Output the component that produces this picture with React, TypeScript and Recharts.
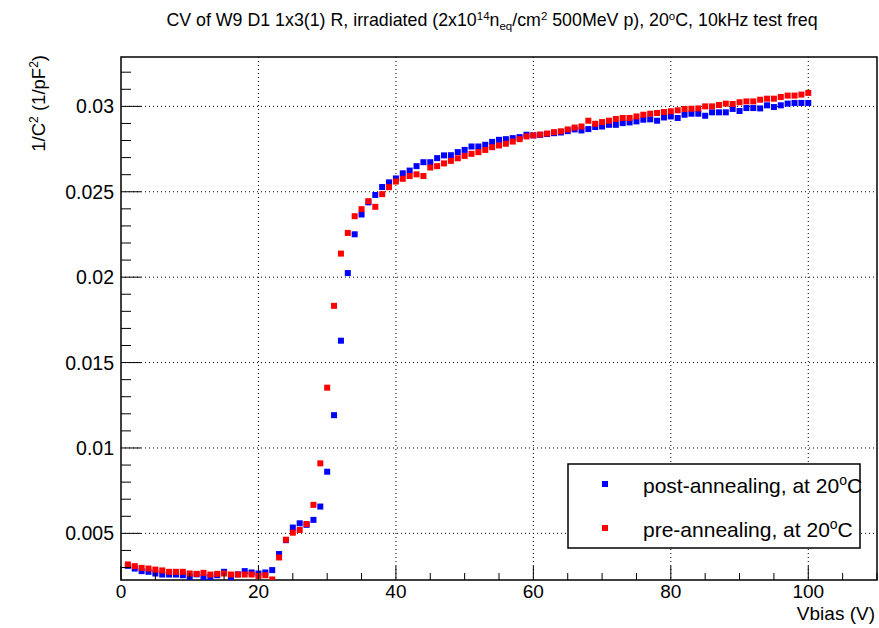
import { ScatterChart, Scatter, XAxis, YAxis, CartesianGrid, ReferenceArea } from "recharts";

// bias voltage steps (V)
const VOLTS = [
  1, 2, 3, 4, 5, 6, 7, 8, 9, 10, 11, 12, 13, 14, 15, 16, 17, 18, 19, 20,
  21, 22, 23, 24, 25, 26, 27, 28, 29, 30, 31, 32, 33, 34, 35, 36, 37, 38, 39, 40,
  41, 42, 43, 44, 45, 46, 47, 48, 49, 50, 51, 52, 53, 54, 55, 56, 57, 58, 59, 60,
  61, 62, 63, 64, 65, 66, 67, 68, 69, 70, 71, 72, 73, 74, 75, 76, 77, 78, 79, 80,
  81, 82, 83, 84, 85, 86, 87, 88, 89, 90, 91, 92, 93, 94, 95, 96, 97, 98, 99, 100,
];

// 1/C^2 after annealing (blue)
const POST = [
  0.0031, 0.00294, 0.00279, 0.00275, 0.00265, 0.00259, 0.00259, 0.00259, 0.00255, 0.00244,
  0.0026, 0.00244, 0.00244, 0.00255, 0.00275, 0.00244, 0.0026, 0.00279, 0.00271, 0.00265,
  0.00271, 0.00285, 0.00379, 0.0046, 0.00534, 0.00559, 0.0055, 0.00579, 0.00657, 0.00861,
  0.01192, 0.01628, 0.02024, 0.02251, 0.02367, 0.02438, 0.02481, 0.02528, 0.02555, 0.02578,
  0.02608, 0.02624, 0.0265, 0.02673, 0.02673, 0.02697, 0.02713, 0.02714, 0.02732, 0.02745,
  0.02765, 0.02765, 0.02775, 0.02792, 0.02804, 0.02808, 0.02814, 0.0282, 0.02834, 0.0283,
  0.02833, 0.02838, 0.02843, 0.02847, 0.02855, 0.02865, 0.02859, 0.02867, 0.02879, 0.02882,
  0.02892, 0.02892, 0.02902, 0.02906, 0.02912, 0.02922, 0.02924, 0.02916, 0.02935, 0.02941,
  0.02932, 0.02951, 0.02957, 0.02957, 0.02945, 0.02965, 0.02965, 0.02965, 0.02985, 0.02973,
  0.0299, 0.0299, 0.02988, 0.03006, 0.02996, 0.03006, 0.03016, 0.0302, 0.0302, 0.0302,
];

// 1/C^2 before annealing (red)
const PRE = [
  0.00318, 0.00308, 0.00298, 0.00294, 0.00288, 0.00283, 0.00275, 0.00275, 0.00275, 0.00265,
  0.00263, 0.00269, 0.00259, 0.00263, 0.00265, 0.00259, 0.00259, 0.00259, 0.00259, 0.00251,
  0.00255, 0.0023, 0.00359, 0.00463, 0.00504, 0.0052, 0.00555, 0.00667, 0.0091, 0.01353,
  0.01832, 0.02138, 0.02259, 0.02357, 0.02398, 0.02445, 0.02412, 0.02486, 0.02527, 0.0256,
  0.02576, 0.02592, 0.02602, 0.02592, 0.02642, 0.0265, 0.02666, 0.02681, 0.02696, 0.0271,
  0.02722, 0.02732, 0.02745, 0.02761, 0.02771, 0.02781, 0.02794, 0.02808, 0.02824, 0.0283,
  0.02835, 0.02841, 0.02849, 0.02854, 0.02865, 0.02876, 0.02882, 0.02916, 0.02898, 0.02908,
  0.02916, 0.02926, 0.02932, 0.02932, 0.02941, 0.02951, 0.02957, 0.02961, 0.02967, 0.02971,
  0.02977, 0.02985, 0.02986, 0.02988, 0.03, 0.03, 0.03008, 0.03016, 0.03014, 0.03024,
  0.03029, 0.03029, 0.03039, 0.03045, 0.03045, 0.03055, 0.03063, 0.03063, 0.03069, 0.03079,
];

const X_TICKS = [0, 5, 10, 15, 20, 25, 30, 35, 40, 45, 50, 55, 60, 65, 70, 75, 80, 85, 90, 95, 100, 105, 110];
const X_MAJOR = [0, 20, 40, 60, 80, 100];
const Y_TICKS = [
  0.003, 0.004, 0.005, 0.006, 0.007, 0.008, 0.009, 0.01, 0.011, 0.012, 0.013, 0.014, 0.015,
  0.016, 0.017, 0.018, 0.019, 0.02, 0.021, 0.022, 0.023, 0.024, 0.025, 0.026, 0.027, 0.028,
  0.029, 0.03, 0.031, 0.032,
];
const Y_MAJOR = [0.005, 0.01, 0.015, 0.02, 0.025, 0.03];

const X_MIN = 0;
const X_MAX = 110;
const Y_MIN = 0.00227;
const Y_MAX = 0.03289;

// frame geometry
const W = 879;
const H = 628;
const PL = 121;
const PR = 877;
const PT = 57;
const PB = 580;
const FONT = "'Liberation Sans', Arial, Helvetica, sans-serif";

const postData = VOLTS.map((v, i) => ({ x: v, y: POST[i] }));
const preData = VOLTS.map((v, i) => ({ x: v, y: PRE[i] }));

const square = (color: string) => (props: any) => {
  if (props.cx == null || props.cy == null) return <g />;
  return <rect x={props.cx - 3} y={props.cy - 3} width={6} height={6} fill={color} />;
};

function YTick(props: any) {
  const { y, payload } = props;
  const major = Y_MAJOR.includes(payload.value);
  return (
    <g>
      <line x1={PL} x2={PL + (major ? 20 : 10)} y1={y} y2={y} stroke="#000" strokeWidth={1} />
      {major && (
        <text x={PL - 7} y={y} textAnchor="end" dominantBaseline="central" fontSize={19.5} fontFamily={FONT} fill="#000">
          {String(payload.value)}
        </text>
      )}
    </g>
  );
}

function XTick(props: any) {
  const { x, payload } = props;
  const major = X_MAJOR.includes(payload.value);
  return (
    <g>
      <line x1={x} x2={x} y1={PB} y2={PB - (major ? 14 : 7)} stroke="#000" strokeWidth={1} />
      {major && (
        <text x={x} y={598} textAnchor="middle" fontSize={19} fontFamily={FONT} fill="#000">
          {String(payload.value)}
        </text>
      )}
    </g>
  );
}

export default function App() {
  return (
    <div style={{ position: "absolute", left: 0, top: 0, width: W, height: H, background: "#fff" }}>
      <ScatterChart
        width={W}
        height={H}
        margin={{ top: PT, right: W - PR, bottom: H - PB - 30, left: PL - 100 }}
      >
        <CartesianGrid
          horizontalValues={Y_MAJOR}
          verticalValues={[20, 40, 60, 80, 100]}
          stroke="#000"
          strokeDasharray="1 3"
        />
        <XAxis
          dataKey="x"
          type="number"
          domain={[X_MIN, X_MAX]}
          ticks={X_TICKS}
          interval={0}
          allowDataOverflow
          height={30}
          axisLine={false}
          tickLine={false}
          tick={<XTick />}
        />
        <YAxis
          dataKey="y"
          type="number"
          domain={[Y_MIN, Y_MAX]}
          ticks={Y_TICKS}
          interval={0}
          allowDataOverflow
          width={100}
          axisLine={false}
          tickLine={false}
          tick={<YTick />}
        />
        <ReferenceArea
          x1={X_MIN}
          x2={X_MAX}
          y1={Y_MIN}
          y2={Y_MAX}
          fill="none"
          fillOpacity={0}
          stroke="#000"
          strokeWidth={1.5}
          strokeOpacity={1}
          ifOverflow="visible"
        />
        <Scatter name="post-annealing" data={postData} fill="#0000ff" shape={square("#0000ff")} isAnimationActive={false} />
        <Scatter name="pre-annealing" data={preData} fill="#ff0000" shape={square("#ff0000")} isAnimationActive={false} />
      </ScatterChart>

      <svg
        width={W}
        height={H}
        style={{ position: "absolute", left: 0, top: 0, pointerEvents: "none" }}
        fontFamily={FONT}
      >
        <text x={492} y={26} textAnchor="middle" fontSize={17.8} fill="#000">
          CV of W9 D1 1x3(1) R, irradiated (2x10
          <tspan dy={-6} fontSize={11.5}>14</tspan>
          <tspan dy={6}>n</tspan>
          <tspan dy={4} fontSize={11.5}>eq</tspan>
          <tspan dy={-4}>/cm</tspan>
          <tspan dy={-6} fontSize={11.5}>2</tspan>
          <tspan dy={6}> 500MeV p), 20</tspan>
          <tspan dy={-6} fontSize={11.5}>o</tspan>
          <tspan dy={6}>C, 10kHz test freq</tspan>
        </text>

        <text transform="translate(45, 55) rotate(-90)" textAnchor="end" fontSize={18.5} fill="#000">
          1/C
          <tspan dy={-7} fontSize={12}>2</tspan>
          <tspan dy={7}> (1/pF</tspan>
          <tspan dy={-7} fontSize={12}>2</tspan>
          <tspan dy={7}>)</tspan>
        </text>

        <text x={875} y={620} textAnchor="end" fontSize={19} fill="#000">
          Vbias (V)
        </text>

        <rect x={568} y={464} width={292} height={84} fill="#fff" stroke="#000" strokeWidth={1.5} />
        <rect x={602} y={481} width={6} height={6} fill="#0000ff" />
        <text x={643} y={493} fontSize={21} fill="#000">
          post-annealing, at 20
          <tspan dy={-8} fontSize={14}>o</tspan>
          <tspan dy={8}>C</tspan>
        </text>
        <rect x={602} y={525} width={6} height={6} fill="#ff0000" />
        <text x={643} y={537} fontSize={21} fill="#000">
          pre-annealing, at 20
          <tspan dy={-8} fontSize={14}>o</tspan>
          <tspan dy={8}>C</tspan>
        </text>
      </svg>
    </div>
  );
}
